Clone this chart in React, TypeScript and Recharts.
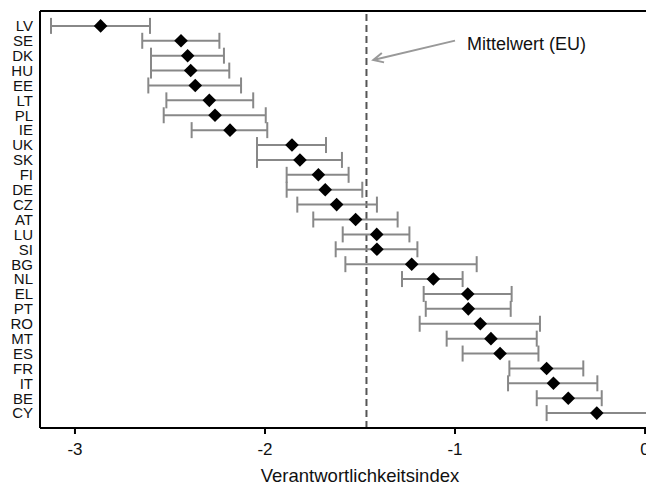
import { ScatterChart, Scatter, XAxis, YAxis, ErrorBar, ReferenceLine } from "recharts";

const COUNTRIES = ["LV", "SE", "DK", "HU", "EE", "LT", "PL", "IE", "UK", "SK", "FI", "DE", "CZ", "AT", "LU", "SI", "BG", "NL", "EL", "PT", "RO", "MT", "ES", "FR", "IT", "BE", "CY"];
const MEANS = [-2.865, -2.442, -2.407, -2.391, -2.367, -2.293, -2.263, -2.184, -1.858, -1.816, -1.719, -1.683, -1.623, -1.523, -1.412, -1.411, -1.228, -1.114, -0.933, -0.93, -0.867, -0.811, -0.763, -0.518, -0.482, -0.404, -0.254];
const LOWER = [-3.126, -2.646, -2.6, -2.6, -2.614, -2.519, -2.533, -2.386, -2.042, -2.042, -1.886, -1.886, -1.83, -1.746, -1.591, -1.628, -1.577, -1.279, -1.165, -1.154, -1.186, -1.044, -0.96, -0.714, -0.721, -0.57, -0.518];
const UPPER = [-2.605, -2.24, -2.216, -2.188, -2.126, -2.062, -1.996, -1.988, -1.679, -1.595, -1.56, -1.488, -1.411, -1.302, -1.24, -1.198, -0.886, -0.96, -0.702, -0.707, -0.553, -0.57, -0.561, -0.325, -0.251, -0.228, 0.05];
const EU_MEAN = -1.466;
const X_TICKS = [-3, -2, -1, 0];
const NOTE = "Mittelwert (EU)";
const ARROW = [{ x: -1.0, y: 0.99 }, { x: -1.43, y: 2.29 }];
const X_TITLE = "Verantwortlichkeitsindex";

const FONT = "'Liberation Sans', Arial, sans-serif";
const data = COUNTRIES.map((c, i) => ({ country: c, idx: i, mean: MEANS[i], err: [MEANS[i] - LOWER[i], UPPER[i] - MEANS[i]] }));
const Y_TICKS = COUNTRIES.map((_, i) => i);

const Diamond = (p: any) => {
  const { cx, cy } = p, r = 6.8;
  return <polygon points={`${cx},${cy - r} ${cx + r},${cy} ${cx},${cy + r} ${cx - r},${cy}`} fill="#000" />;
};

// arrow from the note to the dashed mean line
const Arrow = (p: any) => {
  const { x1, y1, x2, y2 } = p;
  const a = Math.atan2(y2 - y1, x2 - x1), h = 11, s = 0.45;
  const hx1 = x2 - h * Math.cos(a - s), hy1 = y2 - h * Math.sin(a - s);
  const hx2 = x2 - h * Math.cos(a + s), hy2 = y2 - h * Math.sin(a + s);
  return (
    <g>
      <path d={`M${x1},${y1}L${x2},${y2}M${hx1},${hy1}L${x2},${y2}L${hx2},${hy2}`} stroke="#999" strokeWidth={2} fill="none" />
      <text x={x1 + 12} y={y1 + 9} fontSize={18} fontFamily={FONT} fill="#111">{NOTE}</text>
    </g>
  );
};

const XTitle = (p: any) => {
  const vb = p.viewBox;
  return <text x={vb.x + vb.width / 2 + 17} y={482} textAnchor="middle" fontSize={18.5} fontFamily={FONT} fill="#111">{X_TITLE}</text>;
};

export default function App() {
  return (
    <div style={{ width: 646, height: 486 }}>
      <style>{`body{margin:0}`}</style>
      <ScatterChart width={646} height={486} margin={{ top: 11, right: 0, bottom: 0, left: 0 }}>
        <XAxis type="number" dataKey="mean" domain={[-3.184, 0.005]} allowDataOverflow ticks={X_TICKS} interval={0}
          height={58} axisLine={{ stroke: "#000", strokeWidth: 2 }} tickLine={{ stroke: "#000", strokeWidth: 2 }} tickSize={6} tickMargin={9}
          tick={{ fill: "#111", fontSize: 17, fontFamily: FONT }} label={<XTitle />} />
        <YAxis type="number" dataKey="idx" domain={[-1, 27]} reversed ticks={Y_TICKS} interval={0} width={40}
          tickFormatter={(i: number) => COUNTRIES[i]} axisLine={{ stroke: "#000", strokeWidth: 2 }} tickLine={false} tickSize={5} tickMargin={2}
          tick={{ fill: "#111", fontSize: 15, fontFamily: FONT }} />
        <ReferenceLine y={-1} stroke="#000" strokeWidth={2} />
        <ReferenceLine x={EU_MEAN} stroke="#555" strokeWidth={2} strokeDasharray="7 4" />
        <ReferenceLine segment={ARROW} shape={<Arrow />} />
        <Scatter data={data} shape={<Diamond />} isAnimationActive={false}>
          <ErrorBar dataKey="err" direction="x" width={8} stroke="#888" strokeWidth={2} isAnimationActive={false} />
        </Scatter>
      </ScatterChart>
    </div>
  );
}
